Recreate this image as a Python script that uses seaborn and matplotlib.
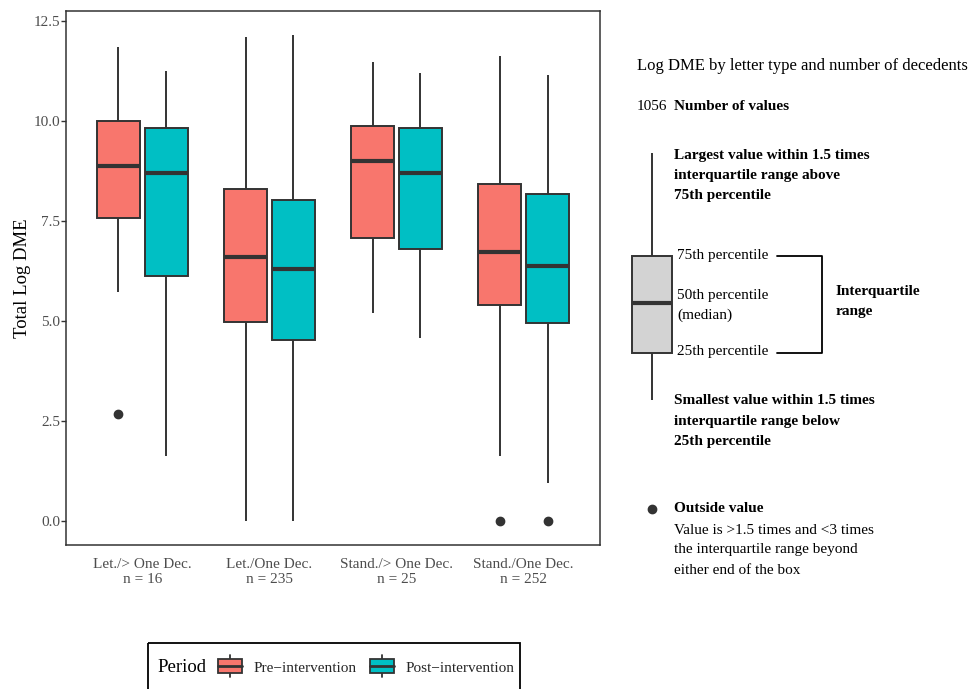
import numpy as np
import pandas as pd
import matplotlib
matplotlib.use("Agg")
import matplotlib.pyplot as plt
import seaborn as sns
from matplotlib.patches import Rectangle, Patch
from matplotlib.lines import Line2D
from matplotlib.legend_handler import HandlerBase

sns.set_theme(style="white")
plt.rcParams["font.family"] = ["Liberation Serif", "DejaVu Serif"]

# ---------------- data ----------------
categories = ["Let./> One Dec.", "Let./One Dec.", "Stand./> One Dec.", "Stand./One Dec."]
n_values = [16, 235, 25, 252]
periods = ["Pre\u2212intervention", "Post\u2212intervention"]
colors = ["#F8766D", "#00BFC4"]

pre_low = [5.73, 0.00, 5.19, 1.63]
pre_q1 = [7.58, 4.97, 7.08, 5.41]
pre_med = [8.87, 6.59, 9.00, 6.72]
pre_q3 = [10.00, 8.31, 9.88, 8.44]
pre_high = [11.86, 12.12, 11.48, 11.64]
pre_out = [[2.68], [], [], [0.00]]

post_low = [1.63, 0.00, 4.57, 0.93]
post_q1 = [6.13, 4.52, 6.79, 4.96]
post_med = [8.70, 6.31, 8.70, 6.38]
post_q3 = [9.83, 8.04, 9.83, 8.19]
post_high = [11.27, 12.15, 11.21, 11.17]
post_out = [[], [], [], [0.00]]

total_n = 1056
guide_vals = [400, 353, 303, 256, 153]   # key box (pixel positions in the key panel)
guide_outlier = [509]


def box_values(lo, q1, md, q3, hi, outs):
    """Sample whose quartiles / whiskers reproduce the given box summary."""
    if not outs:
        return [lo, q1, md, q3, hi]
    return list(outs) + [lo, q1, q1, md, q3, q3, hi, hi]


rows = []
summ = {
    periods[0]: (pre_low, pre_q1, pre_med, pre_q3, pre_high, pre_out),
    periods[1]: (post_low, post_q1, post_med, post_q3, post_high, post_out),
}
for i, cat in enumerate(categories):
    for p in periods:
        lo, q1, md, q3, hi, outs = (a[i] for a in summ[p])
        for v in box_values(lo, q1, md, q3, hi, outs):
            rows.append({"Group": cat, "Period": p, "DME": v})
df = pd.DataFrame(rows)

# ---------------- figure ----------------
W, H = 972, 689
fig = plt.figure(figsize=(W / 100, H / 100), dpi=100)
ax = fig.add_axes([66 / W, 1 - 545 / H, (600 - 66) / W, (545 - 11) / H])

dark = "#333333"
sns.boxplot(
    data=df, x="Group", y="DME", hue="Period", order=categories, hue_order=periods,
    palette=colors, saturation=1, width=0.75, gap=0.1, dodge=True,
    linecolor=dark, linewidth=1.4, showcaps=False,
    medianprops={"linewidth": 3, "color": dark},
    flierprops={"marker": "o", "markerfacecolor": dark, "markeredgecolor": dark,
                "markersize": 6},
    legend=False, ax=ax,
)

ax.set_xlim(-0.6, 3.6)
ax.set_ylim(-0.61, 12.76)
yt = [0, 2.5, 5, 7.5, 10, 12.5]
ax.set_yticks(yt)
ax.set_yticklabels([f"{t:.1f}" for t in yt])
ax.set_xticks(range(len(categories)))
ax.set_xticklabels([f"{c}\nn = {n}" for c, n in zip(categories, n_values)],
                   linespacing=1.15)
ax.tick_params(axis="y", left=True, length=3.5, width=1.0, color=dark,
               labelcolor="#4D4D4D", labelsize=11, pad=0.8)
ax.tick_params(axis="x", bottom=False, length=0, labelcolor="#4D4D4D",
               labelsize=11, pad=9.5)
for s in ax.spines.values():
    s.set_visible(True)
    s.set_color(dark)
    s.set_linewidth(1.1)
ax.set_xlabel("")
ax.set_ylabel("Total Log DME", fontsize=13.5, color="black")
ax.yaxis.set_label_coords((23 - 66) / 534, 0.5)
ax.yaxis.label.set_va("center")

# ---------------- key panel (pixel coordinates) ----------------
gax = fig.add_axes([0, 0, 1, 1])
gax.patch.set_visible(False)
sns.boxplot(x=[652.0] * len(guide_vals), y=guide_vals, native_scale=True, orient="x",
            width=40, color="#D3D3D3", saturation=1, linecolor=dark, linewidth=1.4,
            showcaps=False, medianprops={"linewidth": 3, "color": dark}, ax=gax)
gax.scatter([652] * len(guide_outlier), guide_outlier, s=36, color=dark, zorder=5)
gax.set_xlim(0, W)
gax.set_ylim(H, 0)
gax.set_axis_off()

fs = 11


def put(x, y, s, bold=False, size=fs):
    gax.text(x, y, s, fontsize=size, fontweight="bold" if bold else "normal",
             ha="left", va="center", color="black")


put(637, 66, "Log DME by letter type and number of decedents", size=12)
put(637, 106, f"{total_n}")
put(674, 106, "Number of values", bold=True)
for y, s in zip([155, 175, 195], ["Largest value within 1.5 times",
                                  "interquartile range above", "75th percentile"]):
    put(674, y, s, bold=True)
put(677, 255, "75th percentile")
put(677, 295, "50th percentile")
put(677, 315, "(median)")
put(677, 352, "25th percentile")
put(836, 292, "Interquartile", bold=True)
put(836, 312, "range", bold=True)
gax.plot([777, 822, 822, 777], [256, 256, 353, 353], color="black", lw=1.3)
for y, s in zip([401, 421, 441], ["Smallest value within 1.5 times",
                                  "interquartile range below", "25th percentile"]):
    put(674, y, s, bold=True)
put(674, 509, "Outside value", bold=True)
for y, s in zip([530, 550, 570], ["Value is >1.5 times and <3 times",
                                  "the interquartile range beyond",
                                  "either end of the box"]):
    put(674, y, s)

# ---------------- legend ----------------
gax.add_patch(Rectangle((148, 643), 372, 70, fill=False, edgecolor="black", lw=1.3,
                        clip_on=False))
gax.text(157, 667, "Period", fontsize=13.5, ha="left", va="center", color="black")


class BoxHandler(HandlerBase):
    def create_artists(self, legend, orig_handle, xdescent, ydescent, width, height,
                       fontsize, trans):
        fc = orig_handle.get_facecolor()
        x0, y0 = -xdescent, -ydescent
        xm = x0 + width / 2
        ext = height * 0.3
        w1 = Line2D([xm, xm], [y0 - ext, y0], color=dark, lw=1.3, transform=trans)
        w2 = Line2D([xm, xm], [y0 + height, y0 + height + ext], color=dark, lw=1.3,
                    transform=trans)
        box = Rectangle((x0, y0), width, height, facecolor=fc, edgecolor=dark, lw=1.3,
                        transform=trans)
        med = Line2D([x0, x0 + width], [y0 + height / 2] * 2, color=dark, lw=2,
                     transform=trans)
        return [w1, w2, box, med]


handles = [Patch(facecolor=c) for c in colors]
fig.legend(handles=handles, labels=periods, handler_map={Patch: BoxHandler()},
           loc="center left", bbox_to_anchor=(218 / W, 1 - 667 / H), ncol=2,
           frameon=False, borderpad=0, borderaxespad=0, handlelength=1.55,
           handleheight=1.0, handletextpad=0.75, columnspacing=0.9,
           prop={"family": "Liberation Serif", "size": 11})

fig.savefig("out.png", dpi=100)
